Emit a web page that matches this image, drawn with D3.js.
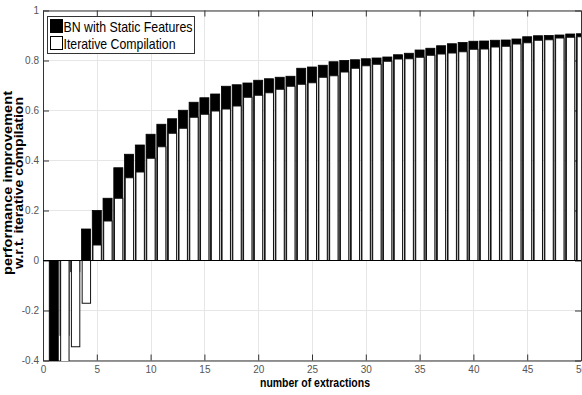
<!DOCTYPE html>
<html>
<head>
<meta charset="utf-8">
<script src="https://cdn.jsdelivr.net/npm/d3@7"></script>
<style>
	body { margin: 0; background: #fff; }
	svg { display: block; }
</style>
</head>
<body>
<div id="chart"></div>
<script>
// number of extractions (x categories)
const extractions = [1, 2, 3, 4, 5, 6, 7, 8, 9, 10, 11, 12, 13, 14, 15, 16, 17, 18, 19, 20,
	21, 22, 23, 24, 25, 26, 27, 28, 29, 30, 31, 32, 33, 34, 35, 36, 37, 38, 39, 40,
	41, 42, 43, 44, 45, 46, 47, 48, 49, 50];

// BN with Static Features (black bars, drawn behind)
const bnStatic = [-0.55, -0.3, -0.045, 0.126, 0.2, 0.249, 0.371, 0.425, 0.462, 0.505,
	0.545, 0.567, 0.601, 0.633, 0.651, 0.666, 0.697, 0.703, 0.71, 0.721,
	0.727, 0.733, 0.737, 0.769, 0.774, 0.781, 0.795, 0.8, 0.803, 0.807,
	0.81, 0.814, 0.823, 0.829, 0.842, 0.849, 0.859, 0.867, 0.872, 0.877,
	0.878, 0.881, 0.882, 0.886, 0.895, 0.899, 0.9, 0.902, 0.906, 0.907];

// Iterative Compilation (white bars, drawn on top)
const iterative = [0, -0.5, -0.345, -0.171, 0.062, 0.158, 0.249, 0.331, 0.354, 0.409,
	0.455, 0.509, 0.529, 0.573, 0.585, 0.598, 0.606, 0.618, 0.653, 0.661,
	0.671, 0.685, 0.697, 0.705, 0.711, 0.733, 0.739, 0.754, 0.769, 0.779,
	0.785, 0.797, 0.806, 0.807, 0.813, 0.821, 0.826, 0.83, 0.835, 0.845,
	0.846, 0.854, 0.857, 0.866, 0.871, 0.881, 0.883, 0.89, 0.893, 0.895];

const xTicks = [0, 5, 10, 15, 20, 25, 30, 35, 40, 45, 50];
const yTicks = [-0.4, -0.2, 0, 0.2, 0.4, 0.6, 0.8, 1];
const yTickLabels = ["-0.4", "-0.2", "0", "0.2", "0.4", "0.6", "0.8", "1"];
const legendLabels = ["BN with Static Features", "Iterative Compilation"];

const width = 582;
const height = 395;
const margin = { top: 10.5, left: 43, right: 1, bottom: 34.5 };
const tickFont = "'Liberation Sans Narrow', 'Arial Narrow', 'Liberation Sans', sans-serif";

const svg = d3
	.select("#chart")
	.append("svg")
	.attr("width", width)
	.attr("height", height);

const xScale = d3
	.scaleLinear()
	.domain([0, 50])
	.range([margin.left, width - margin.right]);

const yScale = d3
	.scaleLinear()
	.domain([-0.4, 1])
	.range([height - margin.bottom, margin.top]);

const x0 = xScale.range()[0], x1 = xScale.range()[1];
const y0 = yScale.range()[0], y1 = yScale.range()[1];

// grid lines
svg.append("g")
	.selectAll("line")
	.data(xTicks)
	.join("line")
	.attr("x1", (d) => Math.round(xScale(d)) + 0.5)
	.attr("x2", (d) => Math.round(xScale(d)) + 0.5)
	.attr("y1", y1)
	.attr("y2", y0)
	.attr("stroke", "#e6e6e6");
svg.append("g")
	.selectAll("line")
	.data(yTicks)
	.join("line")
	.attr("x1", x0)
	.attr("x2", x1)
	.attr("y1", (d) => yScale(d))
	.attr("y2", (d) => yScale(d))
	.attr("stroke", "#e6e6e6");

// axes with inward ticks (box style)
const axisStyle = (g) => {
	g.select(".domain").attr("stroke", "#333");
	g.selectAll(".tick line").attr("stroke", "#333");
	g.selectAll("text")
		.attr("fill", "#555")
		.style("font-family", tickFont)
		.style("font-size", "10px");
};

svg.append("g")
	.attr("transform", `translate(0, ${y0})`)
	.call(d3.axisBottom(xScale).tickValues(xTicks).tickSizeInner(-6).tickSizeOuter(0).tickPadding(5).tickFormat(d3.format("d")))
	.call(axisStyle);

svg.append("g")
	.attr("transform", `translate(0, ${y1})`)
	.call(d3.axisTop(xScale).tickValues(xTicks).tickSizeInner(-6).tickSizeOuter(0).tickFormat(""))
	.call(axisStyle);

svg.append("g")
	.attr("transform", `translate(${x0}, 0)`)
	.call(d3.axisLeft(yScale).tickValues(yTicks).tickSizeInner(-6).tickSizeOuter(0).tickPadding(4)
		.tickFormat((d, i) => yTickLabels[i]))
	.call(axisStyle);

svg.append("g")
	.attr("transform", `translate(${x1}, 0)`)
	.call(d3.axisRight(yScale).tickValues(yTicks).tickSizeInner(-6).tickSizeOuter(0).tickFormat(""))
	.call(axisStyle);

// bars, clipped to plot area
svg.append("clipPath")
	.attr("id", "plot-clip")
	.append("rect")
	.attr("x", x0)
	.attr("y", y1)
	.attr("width", x1 - x0)
	.attr("height", y0 - y1 + 0.5);

const barData = extractions.map((d, i) => ({ x: d, bn: bnStatic[i], it: iterative[i] }));
const bars = svg.append("g").attr("clip-path", "url(#plot-clip)");

bars.selectAll("rect.bn")
	.data(barData)
	.join("rect")
	.attr("class", "bn")
	.attr("x", (d) => xScale(d.x - 0.42))
	.attr("width", (d) => xScale(d.x + 0.42) - xScale(d.x - 0.42))
	.attr("y", (d) => yScale(Math.max(0, d.bn)))
	.attr("height", (d) => Math.abs(yScale(d.bn) - yScale(0)))
	.attr("fill", "#000")
	.attr("stroke", "#000")
	.attr("stroke-width", 0.8);

bars.selectAll("rect.it")
	.data(barData.filter((d) => d.it !== 0))
	.join("rect")
	.attr("class", "it")
	.attr("x", (d) => xScale(d.x - 0.36))
	.attr("width", (d) => xScale(d.x + 0.42) - xScale(d.x - 0.36))
	.attr("y", (d) => yScale(Math.max(0, d.it)))
	.attr("height", (d) => Math.abs(yScale(d.it) - yScale(0)))
	.attr("fill", "#fff")
	.attr("stroke", "#111")
	.attr("stroke-width", 1);

// zero baseline
svg.append("line")
	.attr("x1", x0)
	.attr("x2", x1)
	.attr("y1", yScale(0))
	.attr("y2", yScale(0))
	.attr("stroke", "#000")
	.attr("stroke-width", 1.2);

// legend
const legend = svg.append("g").attr("transform", "translate(47.5, 16.5)");
legend.append("rect")
	.attr("width", 147)
	.attr("height", 37)
	.attr("fill", "#fff")
	.attr("stroke", "#333");
legend.selectAll("rect.sw")
	.data(legendLabels)
	.join("rect")
	.attr("class", "sw")
	.attr("x", 3)
	.attr("y", (d, i) => 3 + i * 17)
	.attr("width", 12)
	.attr("height", 13)
	.attr("fill", (d, i) => (i === 0 ? "#000" : "#fff"))
	.attr("stroke", "#000");
legend.selectAll("text")
	.data(legendLabels)
	.join("text")
	.attr("x", 16)
	.attr("y", (d, i) => 15 + i * 17)
	.attr("textLength", (d, i) => (i === 0 ? 129 : 112))
	.attr("lengthAdjust", "spacingAndGlyphs")
	.style("font-family", "'Liberation Sans', Arial, sans-serif")
	.style("font-size", "15px")
	.text((d) => d);

// axis labels
svg.append("text")
	.text("number of extractions")
	.attr("x", 315)
	.attr("y", 387)
	.attr("text-anchor", "middle")
	.attr("textLength", 110)
	.attr("lengthAdjust", "spacingAndGlyphs")
	.style("font-family", "'Liberation Sans', Arial, sans-serif")
	.style("font-weight", "bold")
	.style("font-size", "13px");

const yLabel = ["performance improvement", "w.r.t. iterative compilation"];
svg.selectAll("text.ylab")
	.data(yLabel)
	.join("text")
	.attr("class", "ylab")
	.attr("text-anchor", "middle")
	.attr("transform", (d, i) => `translate(${12 + i * 11}, 183) rotate(-90)`)
	.attr("textLength", (d, i) => (i === 0 ? 184 : 172))
	.attr("lengthAdjust", "spacingAndGlyphs")
	.style("font-family", "'Liberation Sans', Arial, sans-serif")
	.style("font-weight", "bold")
	.style("font-size", "12.5px")
	.text((d) => d);
</script>
</body>
</html>
